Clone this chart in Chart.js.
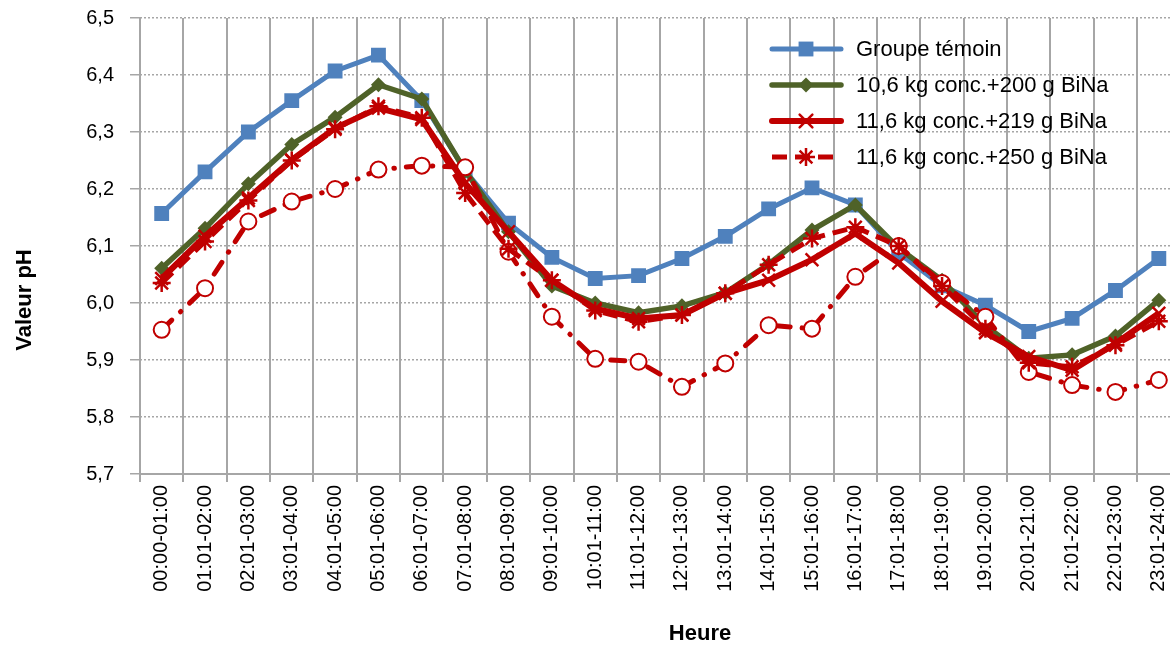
<!DOCTYPE html>
<html>
<head>
<meta charset="utf-8">
<script src="https://cdn.jsdelivr.net/npm/chart.js@4.4.1/dist/chart.umd.min.js"></script>
<style>
html, body { margin: 0; padding: 0; background: #fff; overflow: hidden; }
#wrap { width: 1170px; height: 648px; overflow: hidden; }
canvas { display: block; }
</style>
</head>
<body>
<div id="wrap"><canvas id="chart" width="1192" height="648"></canvas></div>
<script>
// tranches horaires
const heures = ['00:00-01:00', '01:01-02:00', '02:01-03:00', '03:01-04:00', '04:01-05:00', '05:01-06:00',
    '06:01-07:00', '07:01-08:00', '08:01-09:00', '09:01-10:00', '10:01-11:00', '11:01-12:00',
    '12:01-13:00', '13:01-14:00', '14:01-15:00', '15:01-16:00', '16:01-17:00', '17:01-18:00',
    '18:01-19:00', '19:01-20:00', '20:01-21:00', '21:01-22:00', '22:01-23:00', '23:01-24:00'];

// valeurs pH
const temoin = [6.157, 6.230, 6.300, 6.355, 6.407, 6.435, 6.355, 6.232, 6.140, 6.080, 6.043, 6.048,
    6.078, 6.117, 6.165, 6.202, 6.172, 6.088, 6.030, 5.996, 5.950, 5.973, 6.022, 6.078];
const bina200 = [6.061, 6.131, 6.209, 6.278, 6.326, 6.383, 6.358, 6.232, 6.125, 6.030, 6.000, 5.983,
    5.995, 6.018, 6.068, 6.128, 6.172, 6.096, 6.040, 5.960, 5.903, 5.909, 5.942, 6.005];
const bina219 = [6.043, 6.117, 6.184, 6.251, 6.307, 6.342, 6.322, 6.210, 6.125, 6.040, 5.990, 5.973,
    5.979, 6.017, 6.040, 6.076, 6.122, 6.070, 6.003, 5.948, 5.906, 5.882, 5.929, 5.982];
const bina250 = [6.035, 6.108, 6.180, 6.250, 6.305, 6.345, 6.325, 6.193, 6.095, 6.040, 5.987, 5.967,
    5.979, 6.017, 6.067, 6.113, 6.133, 6.100, 6.030, 5.955, 5.895, 5.888, 5.926, 5.968];
// série à cercles (sans entrée de légende)
const cercles = [5.953, 6.026, 6.143, 6.178, 6.200, 6.234, 6.241, 6.238, 6.090, 5.976, 5.902, 5.897,
    5.853, 5.894, 5.961, 5.955, 6.046, 6.100, 6.035, 5.976, 5.879, 5.856, 5.844, 5.865];

const yMin = 5.7, yMax = 6.5;
const titreX = 'Heure';
const titreY = 'Valeur pH';

const BLEU = '#4F81BD', VERT = '#4F6228', ROUGE = '#C00000', GRIS = '#A6A6A6';
const police = '"Liberation Sans", Arial, sans-serif';

// dessin d'un marqueur pour la légende
function dessinerMarqueur(ctx, style, x, y, r, couleur) {
    ctx.save();
    ctx.setLineDash([]);
    ctx.fillStyle = couleur;
    ctx.strokeStyle = couleur;
    ctx.lineWidth = 2.5;
    ctx.beginPath();
    const s = r * Math.SQRT1_2;
    if (style === 'rect') {
        ctx.rect(x - s, y - s, 2 * s, 2 * s);
        ctx.fill();
    } else if (style === 'rectRot') {
        ctx.moveTo(x, y - r); ctx.lineTo(x + r, y); ctx.lineTo(x, y + r); ctx.lineTo(x - r, y);
        ctx.closePath();
        ctx.fill();
    } else if (style === 'crossRot') {
        ctx.moveTo(x - s, y - s); ctx.lineTo(x + s, y + s);
        ctx.moveTo(x - s, y + s); ctx.lineTo(x + s, y - s);
        ctx.stroke();
    } else if (style === 'star') {
        ctx.moveTo(x - s, y - s); ctx.lineTo(x + s, y + s);
        ctx.moveTo(x - s, y + s); ctx.lineTo(x + s, y - s);
        ctx.moveTo(x, y - r); ctx.lineTo(x, y + r);
        ctx.moveTo(x - r, y); ctx.lineTo(x + r, y);
        ctx.stroke();
    }
    ctx.restore();
}

// titres d'axes et légende dans la zone de tracé
const extras = {
    id: 'extras',
    afterDraw(chart) {
        const ctx = chart.ctx;
        ctx.save();
        ctx.fillStyle = '#000';
        ctx.font = 'bold 22px ' + police;
        ctx.textAlign = 'center';
        ctx.textBaseline = 'middle';
        ctx.fillText(titreX, 700, 634);
        ctx.translate(25, 300);
        ctx.rotate(-Math.PI / 2);
        ctx.fillText(titreY, 0, 0);
        ctx.restore();

        ctx.save();
        let y = 49;
        chart.data.datasets.forEach(ds => {
            if (!ds.label) return;
            ctx.strokeStyle = ds.borderColor;
            ctx.lineWidth = ds.borderWidth;
            ctx.lineCap = ds.borderDash ? 'butt' : 'round';
            ctx.setLineDash(ds.borderDash || []);
            ctx.beginPath();
            ctx.moveTo(772, y);
            ctx.lineTo(841, y);
            ctx.stroke();
            dessinerMarqueur(ctx, ds.pointStyle, 806, y, ds.pointRadius, ds.borderColor);
            ctx.fillStyle = '#000';
            ctx.font = '22px ' + police;
            ctx.textAlign = 'left';
            ctx.textBaseline = 'middle';
            ctx.fillText(ds.label, 856, y + 1);
            y += 36;
        });
        ctx.restore();
    }
};

new Chart(document.getElementById('chart'), {
    type: 'line',
    data: {
        labels: heures,
        datasets: [{
            label: 'Groupe témoin',
            data: temoin,
            borderColor: BLEU,
            backgroundColor: BLEU,
            borderWidth: 5,
            pointStyle: 'rect',
            pointRadius: 10.5,
            pointBackgroundColor: BLEU,
            pointBorderWidth: 0,
            order: 5
        }, {
            label: '10,6 kg conc.+200 g BiNa',
            data: bina200,
            borderColor: VERT,
            backgroundColor: VERT,
            borderWidth: 5.5,
            pointStyle: 'rectRot',
            pointRadius: 7.5,
            pointBackgroundColor: VERT,
            pointBorderWidth: 0,
            order: 4
        }, {
            label: '11,6 kg conc.+219 g BiNa',
            data: bina219,
            borderColor: ROUGE,
            backgroundColor: ROUGE,
            borderWidth: 6,
            pointStyle: 'crossRot',
            pointRadius: 9,
            pointBorderWidth: 2.5,
            order: 1
        }, {
            label: '11,6 kg conc.+250 g BiNa',
            data: bina250,
            borderColor: ROUGE,
            backgroundColor: ROUGE,
            borderWidth: 5,
            borderDash: [15, 8],
            pointStyle: 'star',
            pointRadius: 9,
            pointBorderWidth: 2.5,
            order: 2
        }, {
            label: '',
            data: cercles,
            borderColor: ROUGE,
            backgroundColor: '#fff',
            borderWidth: 5,
            borderDash: [14, 12, 0.5, 12],
            borderCapStyle: 'round',
            pointStyle: 'circle',
            pointRadius: 8,
            pointBackgroundColor: '#fff',
            pointBorderColor: ROUGE,
            pointBorderWidth: 2,
            order: 3
        }]
    },
    options: {
        responsive: false,
        animation: false,
        layout: { padding: { top: 18, left: 0, right: 2, bottom: 0 } },
        elements: { line: { tension: 0 } },
        plugins: {
            legend: { display: false },
            tooltip: { enabled: false }
        },
        scales: {
            x: {
                offset: true,
                afterFit(scale) {
                    scale.height = 174;
                    scale.paddingLeft = 0;
                    scale.paddingRight = 0;
                },
                ticks: {
                    autoSkip: false,
                    minRotation: 90,
                    maxRotation: 90,
                    padding: 3,
                    color: '#000',
                    font: { family: police, size: 20 }
                },
                grid: { offset: true, color: GRIS, lineWidth: 2, tickLength: 8, tickColor: GRIS, tickWidth: 2 },
                border: { display: true, color: GRIS, width: 2 }
            },
            y: {
                min: yMin,
                max: yMax,
                afterFit(scale) {
                    scale.width = 140;
                    scale.paddingTop = 0;
                    scale.paddingBottom = 0;
                },
                ticks: {
                    stepSize: 0.1,
                    padding: 16,
                    color: '#000',
                    font: { family: police, size: 20 },
                    callback: v => v.toFixed(1).replace('.', ',')
                },
                grid: { color: GRIS, lineWidth: 1.5, tickLength: 10, tickColor: GRIS, tickWidth: 1.5, tickBorderDash: [] },
                border: { display: false, dash: [2, 2] }
            }
        }
    },
    plugins: [extras]
});
</script>
</body>
</html>
